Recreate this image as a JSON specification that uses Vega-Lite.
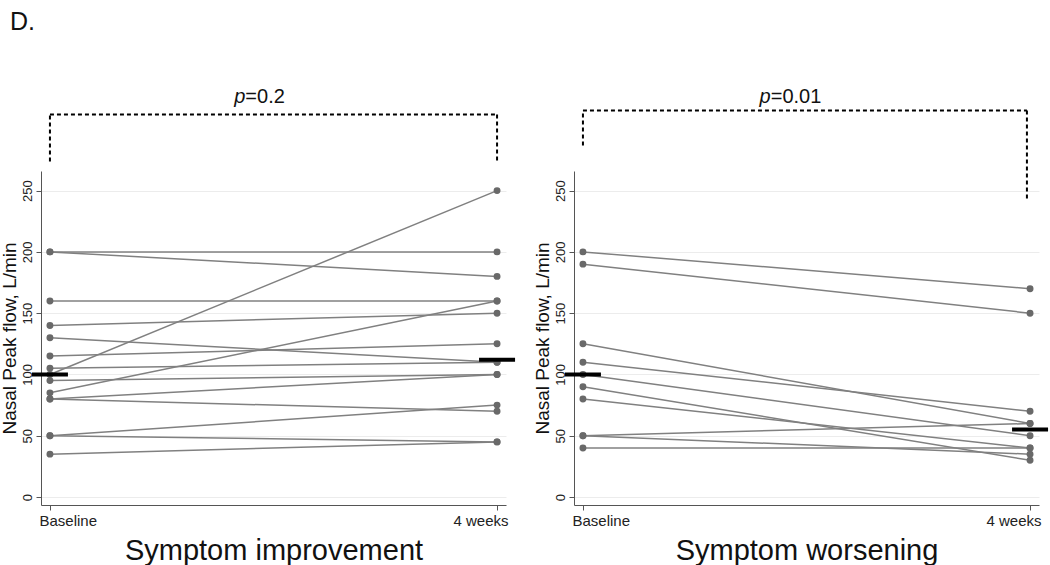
{
  "$schema": "https://vega.github.io/schema/vega-lite/v6.json",
  "background": "white",
  "padding": {"left": 0, "top": 10, "right": 2, "bottom": 2},
  "title": {"text": "D.", "anchor": "start", "fontSize": 25, "fontWeight": "normal", "font": "Liberation Sans", "color": "#111", "offset": 52, "dx": 10},
  "config": {
    "font": "Liberation Sans",
    "view": {"stroke": null},
    "axisY": {"grid": true, "gridColor": "#ececec", "gridWidth": 1, "domainColor": "#555", "tickColor": "#555", "tickSize": 5, "labelAngle": 270, "labelFontSize": 13, "labelColor": "#222", "labelPadding": 2, "titleFontSize": 19, "titleFontWeight": "normal", "titleColor": "#111", "titlePadding": 2},
    "axisX": {"grid": false, "domainColor": "#555", "tickColor": "#555", "tickSize": 5, "labelFontSize": 15, "labelColor": "#222", "labelFlush": 12, "labelFlushOffset": 11, "labelPadding": 3, "titleFontSize": 29, "titleFontWeight": "normal", "titleColor": "#111", "titlePadding": 8}
  },
  "spacing": 17,
  "hconcat": [
    {
      "width": 465,
      "height": 334,
      "encoding": {
        "x": {"field": "time", "type": "quantitative", "scale": {"domain": [-0.02, 1.02], "nice": false, "zero": false},
              "axis": {"values": [0, 1], "labelExpr": "datum.value == 0 ? 'Baseline' : '4 weeks'", "title": "Symptom improvement"}},
        "y": {"field": "value", "type": "quantitative", "scale": {"domain": [-6.5, 266], "nice": false, "zero": false},
              "axis": {"values": [0, 50, 100, 150, 200, 250], "title": "Nasal Peak flow, L/min"}}
      },
      "layer": [
        {
          "data": {"values": [
            {"id":1,"time":0,"value":200},{"id":1,"time":1,"value":200},
            {"id":2,"time":0,"value":200},{"id":2,"time":1,"value":180},
            {"id":3,"time":0,"value":160},{"id":3,"time":1,"value":160},
            {"id":4,"time":0,"value":140},{"id":4,"time":1,"value":150},
            {"id":5,"time":0,"value":130},{"id":5,"time":1,"value":110},
            {"id":6,"time":0,"value":115},{"id":6,"time":1,"value":125},
            {"id":7,"time":0,"value":105},{"id":7,"time":1,"value":110},
            {"id":8,"time":0,"value":100},{"id":8,"time":1,"value":250},
            {"id":9,"time":0,"value":95},{"id":9,"time":1,"value":100},
            {"id":10,"time":0,"value":85},{"id":10,"time":1,"value":160},
            {"id":11,"time":0,"value":80},{"id":11,"time":1,"value":100},
            {"id":12,"time":0,"value":80},{"id":12,"time":1,"value":70},
            {"id":13,"time":0,"value":50},{"id":13,"time":1,"value":75},
            {"id":14,"time":0,"value":50},{"id":14,"time":1,"value":45},
            {"id":15,"time":0,"value":35},{"id":15,"time":1,"value":45}
          ]},
          "layer": [
            {
              "mark": {"type": "line", "color": "#808080", "strokeWidth": 1.5},
              "encoding": {"detail": {"field": "id"}}
            },
            {
              "mark": {"type": "circle", "color": "#696969", "size": 48, "opacity": 1},
              "encoding": {}
            }
          ]
        },
        {
          "data": {"values": [{"time": 0, "value": 100}, {"time": 1, "value": 112}]},
          "mark": {"type": "tick", "orient": "horizontal", "color": "black", "thickness": 4, "size": 36, "opacity": 1},
          "encoding": {}
        },
        {
          "data": {"values": [
            {"time": 0, "value": 273.7, "time2": 0, "value2": 312},
            {"time": 0, "value": 312, "time2": 1, "value2": 312},
            {"time": 1, "value": 312, "time2": 1, "value2": 273.7}
          ]},
          "mark": {"type": "rule", "color": "black", "strokeWidth": 2, "strokeDash": [4, 3]},
          "encoding": {"x2": {"field": "time2"}, "y2": {"field": "value2"}}
        },
        {
          "data": {"values": [{"time": 0.437, "value": 326}]},
          "layer": [
            {
              "mark": {"type": "text", "text": "p", "fontStyle": "italic", "fontSize": 20, "align": "right", "baseline": "middle", "color": "#111"},
              "encoding": {}
            },
            {
              "mark": {"type": "text", "text": "=0.2", "fontSize": 20, "align": "left", "baseline": "middle", "color": "#111"},
              "encoding": {}
            }
          ]
        }
      ]
    },
    {
      "width": 465,
      "height": 334,
      "encoding": {
        "x": {"field": "time", "type": "quantitative", "scale": {"domain": [-0.02, 1.02], "nice": false, "zero": false},
              "axis": {"values": [0, 1], "labelExpr": "datum.value == 0 ? 'Baseline' : '4 weeks'", "title": "Symptom worsening"}},
        "y": {"field": "value", "type": "quantitative", "scale": {"domain": [-6.5, 266], "nice": false, "zero": false},
              "axis": {"values": [0, 50, 100, 150, 200, 250], "title": "Nasal Peak flow, L/min"}}
      },
      "layer": [
        {
          "data": {"values": [
            {"id":1,"time":0,"value":200},{"id":1,"time":1,"value":170},
            {"id":2,"time":0,"value":190},{"id":2,"time":1,"value":150},
            {"id":3,"time":0,"value":125},{"id":3,"time":1,"value":60},
            {"id":4,"time":0,"value":110},{"id":4,"time":1,"value":70},
            {"id":5,"time":0,"value":100},{"id":5,"time":1,"value":50},
            {"id":6,"time":0,"value":90},{"id":6,"time":1,"value":30},
            {"id":7,"time":0,"value":80},{"id":7,"time":1,"value":40},
            {"id":8,"time":0,"value":50},{"id":8,"time":1,"value":60},
            {"id":9,"time":0,"value":50},{"id":9,"time":1,"value":35},
            {"id":10,"time":0,"value":40},{"id":10,"time":1,"value":40}
          ]},
          "layer": [
            {
              "mark": {"type": "line", "color": "#808080", "strokeWidth": 1.5},
              "encoding": {"detail": {"field": "id"}}
            },
            {
              "mark": {"type": "circle", "color": "#696969", "size": 48, "opacity": 1},
              "encoding": {}
            }
          ]
        },
        {
          "data": {"values": [{"time": 0, "value": 100}, {"time": 1, "value": 55}]},
          "mark": {"type": "tick", "orient": "horizontal", "color": "black", "thickness": 4, "size": 36, "opacity": 1},
          "encoding": {}
        },
        {
          "data": {"values": [
            {"time": 0, "value": 286.8, "time2": 0, "value2": 315.4},
            {"time": 0, "value": 315.4, "time2": 0.993, "value2": 315.4},
            {"time": 0.993, "value": 315.4, "time2": 0.993, "value2": 243.5}
          ]},
          "mark": {"type": "rule", "color": "black", "strokeWidth": 2, "strokeDash": [4, 3]},
          "encoding": {"x2": {"field": "time2"}, "y2": {"field": "value2"}}
        },
        {
          "data": {"values": [{"time": 0.42, "value": 326}]},
          "layer": [
            {
              "mark": {"type": "text", "text": "p", "fontStyle": "italic", "fontSize": 20, "align": "right", "baseline": "middle", "color": "#111"},
              "encoding": {}
            },
            {
              "mark": {"type": "text", "text": "=0.01", "fontSize": 20, "align": "left", "baseline": "middle", "color": "#111"},
              "encoding": {}
            }
          ]
        }
      ]
    }
  ]
}
